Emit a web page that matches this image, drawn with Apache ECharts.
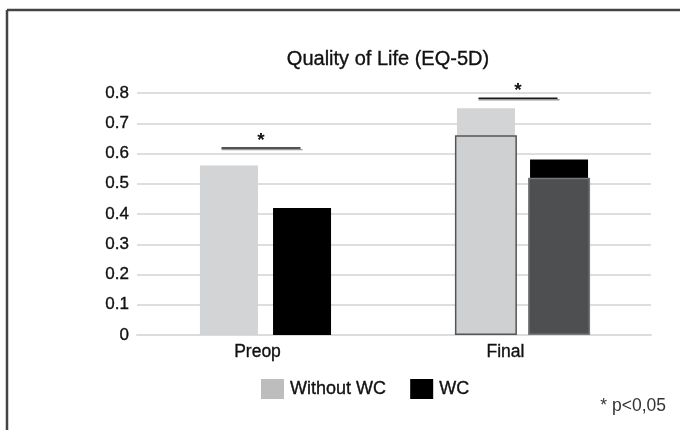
<!DOCTYPE html>
<html>
<head>
<meta charset="utf-8">
<script src="https://cdn.jsdelivr.net/npm/echarts@6/dist/echarts.min.js"></script>
<style>html,body{margin:0;padding:0;background:#fff}#c{width:680px;height:430px}</style>
</head>
<body>
<div id="c"></div>
<script>
var categories = ['Preop', 'Final'];
var withoutWC = [0.56, 0.75];
var withWC = [0.42, 0.58];
var withoutWCOverlay = ['-', 0.66];
var withWCOverlay = ['-', 0.52];
var sigCategories = ['Preop', 'Final'];
var sigLevels = [0.618, 0.783];
var yTicks = [0, 0.1, 0.2, 0.3, 0.4, 0.5, 0.6, 0.7, 0.8];

var chart = echarts.init(document.getElementById('c'), null, {renderer: 'canvas'});
var font = 'Liberation Sans, Arial, Helvetica, sans-serif';
var thick = {textBorderColor: '#111', textBorderWidth: 0.35};

var option = {
  backgroundColor: '#fff',
  animation: false,
  title: {
    text: 'Quality of Life (EQ-5D)',
    left: 383, top: 44, textAlign: 'center',
    textStyle: Object.assign({fontFamily: font, fontSize: 20, fontWeight: 'normal', color: '#111'}, thick)
  },
  legend: {
    data: [{name: 'Without WC', itemStyle: {color: '#bdbdbd'}}, {name: 'WC'}],
    left: 256, top: 374,
    icon: 'rect', itemWidth: 23, itemHeight: 20, itemGap: 24,
    textStyle: Object.assign({fontFamily: font, fontSize: 18, color: '#111', padding: [0, 0, 0, 1]}, thick)
  },
  grid: {left: 137, right: 29, top: 93, bottom: 95, containLabel: false},
  xAxis: [{
    type: 'category', data: categories,
    axisLine: {show: true, lineStyle: {color: '#dcdcdc', width: 2}},
    axisTick: {show: false},
    axisLabel: {
      margin: 8,
      formatter: function (v) { return v === 'Preop' ? '{a|' + v + '}' : '{b|' + v + '}'; },
      rich: {
        a: Object.assign({fontFamily: font, fontSize: 17.5, color: '#111', padding: [0, 16, 0, 0]}, thick),
        b: Object.assign({fontFamily: font, fontSize: 17.5, color: '#111', padding: [0, 34, 0, 0]}, thick)
      }
    }
  }, {
    type: 'category', data: categories, show: false
  }],
  yAxis: {
    type: 'value', min: 0, max: 0.8, interval: 0.1,
    axisLine: {show: false}, axisTick: {show: false},
    splitLine: {lineStyle: {color: '#dedede', width: 2}},
    axisLabel: Object.assign({
      fontFamily: font, fontSize: 17, color: '#111', margin: 8,
      formatter: function (v) {
        for (var i = 0; i < yTicks.length; i++) {
          if (Math.abs(yTicks[i] - v) < 1e-6) return v === 0 ? '0' : yTicks[i].toFixed(1);
        }
        return '';
      }
    }, thick)
  },
  series: [{
    name: 'Without WC', type: 'bar', xAxisIndex: 0, data: withoutWC,
    barWidth: 58, barGap: '26%', itemStyle: {color: '#d3d4d6'}
  }, {
    name: 'WC', type: 'bar', xAxisIndex: 0, data: withWC,
    barWidth: 58, barGap: '26%', itemStyle: {color: '#000'}
  }, {
    name: 'Without WC final', type: 'bar', xAxisIndex: 1, data: withoutWCOverlay,
    barWidth: 62, barGap: '18%', itemStyle: {color: '#cfd0d2', borderColor: '#555', borderWidth: 1.5}
  }, {
    name: 'WC final', type: 'bar', xAxisIndex: 1, data: withWCOverlay,
    barWidth: 62, barGap: '18%', itemStyle: {color: '#4e4f51', borderColor: '#777', borderWidth: 1.5}
  }, {
    name: 'sig', type: 'custom', xAxisIndex: 0,
    data: sigCategories.map(function (c, i) { return [c, sigLevels[i]]; }),
    renderItem: function (params, api) {
      var p = api.coord([api.value(0), api.value(1)]);
      var x0 = p[0] - 44, x1 = p[0] + 35, mid = (x0 + x1) / 2;
      return {
        type: 'group',
        children: [
          {type: 'line', shape: {x1: x0, y1: p[1] + 1.6, x2: x1 + 2, y2: p[1] + 1.6}, style: {stroke: '#999', lineWidth: 1.3}},
          {type: 'line', shape: {x1: x0, y1: p[1], x2: x1, y2: p[1]}, style: {stroke: '#1a1a1a', lineWidth: 1.5}},
          {type: 'text', x: mid, y: p[1] + 2, style: {text: '*', fontFamily: font, fontSize: 19, fontWeight: 'bold', fill: '#111', align: 'center', verticalAlign: 'bottom'}}
        ]
      };
    },
    z: 10
  }],
  graphic: [
    {type: 'line', shape: {x1: 7, y1: 10, x2: 680, y2: 10}, style: {stroke: '#444', lineWidth: 2.5}},
    {type: 'line', shape: {x1: 7, y1: 10, x2: 7, y2: 430}, style: {stroke: '#444', lineWidth: 2.5}},
    {type: 'text', right: 14, top: 397, style: {text: '* p<0,05', fontFamily: font, fontSize: 17.5, fill: '#333'}}
  ]
};
chart.setOption(option);
</script>
</body>
</html>
